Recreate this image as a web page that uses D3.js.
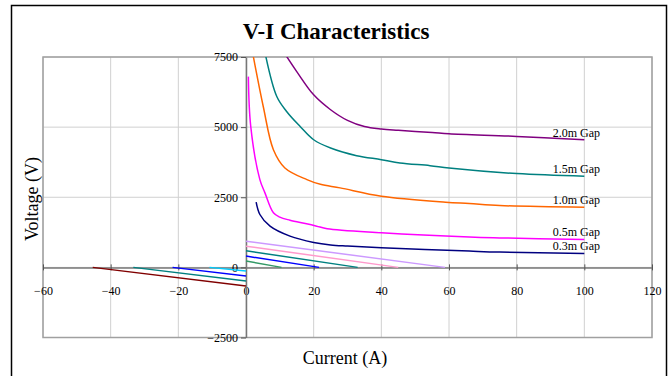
<!DOCTYPE html>
<html>
<head>
<meta charset="utf-8">
<script src="https://cdn.jsdelivr.net/npm/d3@7"></script>
<style>
  body { margin: 0; background: #fff; }
  text { font-family: 'Liberation Serif', 'DejaVu Serif', serif; fill: #000; }
</style>
</head>
<body>
<div id="chart"></div>
<script>
// axis ticks
const currentTicks = [-60, -40, -20, 0, 20, 40, 60, 80, 100, 120];
const voltageTicks = [-2500, 0, 2500, 5000, 7500];

// gap curves (current A, voltage V)
const gapNames = ['2.0m Gap', '1.5m Gap', '1.0m Gap', '0.5m Gap', '0.3m Gap'];
const gap20I = [10.5, 15, 20, 25, 30, 35, 40, 45, 55, 60, 80, 100];
const gap20V = [7800, 6980, 6150, 5620, 5240, 5020, 4930, 4885, 4810, 4765, 4670, 4550];
const gap15I = [5.4, 9.1, 12, 16, 20, 25, 32.7, 40, 45.5, 54.4, 60, 80, 100];
const gap15V = [7780, 6090, 5560, 5025, 4550, 4256, 3983, 3840, 3720, 3627, 3544, 3343, 3247];
const gap10I = [1.8, 5.1, 8.1, 11.5, 18, 22, 27.8, 40, 59, 66, 75, 100];
const gap10V = [7750, 5736, 4196, 3545, 3129, 2960, 2834, 2538, 2325, 2276, 2205, 2145];
const gap05I = [0.7, 1.4, 4.1, 5.6, 8.1, 10, 13, 17.9, 20.9, 24, 40, 66, 75, 100];
const gap05V = [6800, 5025, 3129, 2656, 1945, 1790, 1682, 1554, 1469, 1376, 1233, 1080, 1050, 996];
const gap03I = [3, 4.1, 7.1, 13, 20, 25, 30, 40, 66, 75, 100];
const gap03V = [2323, 1885, 1469, 1113, 890, 800, 760, 700, 580, 544, 498];
const gapColors = ['#800080', '#008080', '#ff6600', '#ff00ff', '#000080'];

// straight lines near the origin
const lineStartI = [0, 0, 0, 0, 0, -45.3, -33.3, -21.7, -10.8];
const lineStartV = [935, 757, 591, 402, 224, 0, 0, 0, 0];
const lineEndI = [58.8, 45, 33, 21.6, 10.5, 0, 0, 0, 0];
const lineEndV = [0, 0, 0, 0, 0, -665, -487, -309, -131];
const lineColors = ['#cc99ff', '#ff99cc', '#008080', '#0000ff', '#339966', '#800000', '#008080', '#0000ff', '#00ccff'];

const width = 668;
const height = 376;
const plot = { left: 43, right: 652, top: 57, bottom: 337.5 };

const svg = d3
  .select('#chart')
  .append('svg')
  .attr('width', width)
  .attr('height', height);

// chart border (bottom edge runs off the picture)
svg.append('rect')
  .attr('x', 11.5).attr('y', 5.5)
  .attr('width', 655).attr('height', 420)
  .attr('fill', 'none')
  .attr('stroke', '#000')
  .attr('stroke-width', 1.5);

const x = d3.scaleLinear().domain([-60, 120]).range([plot.left, plot.right]);
const y = d3.scaleLinear().domain([-2500, 7500]).range([plot.bottom, plot.top]);

svg.append('clipPath').attr('id', 'clip')
  .append('rect')
  .attr('x', plot.left).attr('y', plot.top)
  .attr('width', plot.right - plot.left).attr('height', plot.bottom - plot.top);

// gridlines
svg.append('g')
  .selectAll('line')
  .data(currentTicks)
  .enter()
  .append('line')
  .attr('x1', (d) => x(d)).attr('x2', (d) => x(d))
  .attr('y1', plot.top).attr('y2', plot.bottom)
  .style('stroke', '#d0d0d0');

svg.append('g')
  .selectAll('line')
  .data(voltageTicks)
  .enter()
  .append('line')
  .attr('x1', plot.left).attr('x2', plot.right)
  .attr('y1', (d) => y(d)).attr('y2', (d) => y(d))
  .style('stroke', '#d0d0d0');

svg.append('rect')
  .attr('x', plot.left).attr('y', plot.top)
  .attr('width', plot.right - plot.left).attr('height', plot.bottom - plot.top)
  .attr('fill', 'none')
  .attr('stroke', '#a0a0a0')
  .attr('stroke-width', 1.5);

// axes crossing at the origin
const xAxis = svg.append('g')
  .attr('transform', `translate(0,${y(0)})`)
  .call(d3.axisBottom(x).tickValues(currentTicks).tickFormat(d3.format('d')).tickSizeOuter(0).tickPadding(13));
xAxis.selectAll('.tick line').attr('y1', -3).attr('y2', 3);

const yAxis = svg.append('g')
  .attr('transform', `translate(${x(0)},0)`)
  .call(d3.axisLeft(y).tickValues(voltageTicks).tickFormat(d3.format('d')).tickSizeInner(5).tickSizeOuter(0).tickPadding(3));

[xAxis, yAxis].forEach((a) => {
  a.select('.domain').attr('stroke', '#777').attr('stroke-width', 1.5);
  a.selectAll('.tick line').attr('stroke', '#555');
  a.selectAll('text')
    .style('font-family', "'Liberation Serif', serif")
    .style('font-size', '12px')
    .attr('fill', '#000');
});

const lineGen = d3.line()
  .x((d) => x(d[0]))
  .y((d) => y(d[1]))
  .curve(d3.curveCatmullRom.alpha(0.5));

const lines = svg.append('g').attr('clip-path', 'url(#clip)');

// straight lines
lines.selectAll('.seg')
  .data(lineColors)
  .enter()
  .append('line')
  .attr('class', 'seg')
  .attr('x1', (d, i) => x(lineStartI[i]))
  .attr('y1', (d, i) => y(lineStartV[i]))
  .attr('x2', (d, i) => x(lineEndI[i]))
  .attr('y2', (d, i) => y(lineEndV[i]))
  .style('stroke', (d) => d)
  .style('stroke-width', 1.5);

// gap curves
const gapData = [
  d3.zip(gap20I, gap20V),
  d3.zip(gap15I, gap15V),
  d3.zip(gap10I, gap10V),
  d3.zip(gap05I, gap05V),
  d3.zip(gap03I, gap03V),
];

lines.selectAll('.gap')
  .data(gapData)
  .enter()
  .append('path')
  .attr('class', 'gap')
  .attr('d', (d) => lineGen(d))
  .attr('fill', 'none')
  .style('stroke', (d, i) => gapColors[i])
  .style('stroke-width', 1.5);

// labels above the last point of each curve
svg.append('g')
  .selectAll('text')
  .data(gapData)
  .enter()
  .append('text')
  .attr('x', (d) => x(d[d.length - 1][0]) - 8)
  .attr('y', (d) => y(d[d.length - 1][1]) - 3)
  .style('text-anchor', 'middle')
  .style('font-size', '12px')
  .text((d, i) => gapNames[i]);

// titles
svg.append('text')
  .attr('x', 336).attr('y', 39)
  .style('text-anchor', 'middle')
  .style('font-size', '23px')
  .style('font-weight', 'bold')
  .text('V-I Characteristics');

svg.append('text')
  .attr('x', 345).attr('y', 364)
  .style('text-anchor', 'middle')
  .style('font-size', '18px')
  .text('Current (A)');

svg.append('text')
  .attr('transform', 'translate(38,199) rotate(-90)')
  .style('text-anchor', 'middle')
  .style('font-size', '18px')
  .text('Voltage (V)');
</script>
</body>
</html>
